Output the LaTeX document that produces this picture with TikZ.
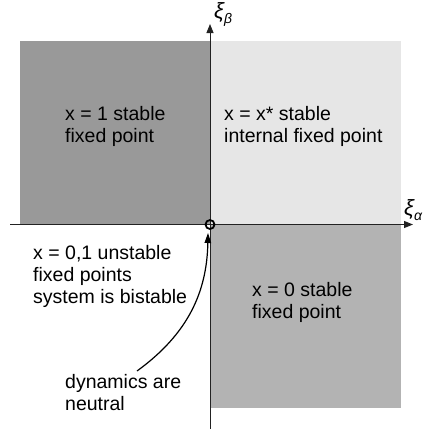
\documentclass[tikz,border=0pt]{standalone}
\usepackage{fontspec}
\setmainfont{Liberation Sans}
\usetikzlibrary{arrows.meta}

\definecolor{darkq}{HTML}{999999}
\definecolor{lightq}{HTML}{E6E6E6}
\definecolor{midq}{HTML}{B3B3B3}
\definecolor{axisc}{HTML}{222222}

% multi-line labels are anchored at the baseline of their last line
\tikzset{
  lbl/.style={anchor=base west, align=left, inner sep=0pt,
    font=\fontsize{19.5}{22}\selectfont},
  axislbl/.style={inner sep=0pt, font=\fontsize{22}{24}\selectfont\itshape},
  axisline/.style={draw=axisc, line width=0.9pt,
    -{Triangle[length=9pt,width=7pt]}},
  pointer/.style={draw=black, line width=1.2pt,
    -{Triangle[length=10pt,width=6.5pt]}},
}

\begin{document}
\begin{tikzpicture}[x=1pt, y=-1pt]
  \useasboundingbox (0,0) rectangle (428,429);

  % quadrant regions
  \fill[darkq]  (20,41)  rectangle (210,224.5);
  \fill[lightq] (210,41) rectangle (401,224.5);
  \fill[midq]   (210,224.5) rectangle (401,408);

  % axes
  \coordinate (xs) at (10,224.5);
  \coordinate (xe) at (413,224.5);
  \coordinate (ys) at (210,429);
  \coordinate (ye) at (210,24);
  \draw[axisline] (xs) -- (xe);
  \draw[axisline] (ys) -- (ye);

  \node[axislbl, anchor=south west] (xa) at (404,221) {ξ\raisebox{-5pt}{\fontsize{14}{14}\selectfont α}};
  \node[axislbl, anchor=south west] (xb) at (214,27) {ξ\raisebox{-5pt}{\fontsize{14}{14}\selectfont β}};

  % origin marker
  \node[circle, draw=black, line width=1.8pt, minimum size=9pt, inner sep=0pt] (origin) at (210,224.5) {};

  % region labels
  \node[lbl] (q1) at (65,142)  {x = 1 stable\\fixed point};
  \node[lbl] (q2) at (224,142) {x = x* stable\\internal fixed point};
  \node[lbl] (q3) at (33,303)  {x = 0,1 unstable\\fixed points\\system is bistable};
  \node[lbl] (q4) at (252,318) {x = 0 stable\\fixed point};
  \node[lbl] (q5) at (65,410)  {dynamics are\\neutral};

  % pointer to the origin
  \coordinate (tail) at (137,371);
  \coordinate (tip) at (208,233);
  \draw[pointer] (tail) .. controls (188,334) and (207,292) .. (tip);
\end{tikzpicture}
\end{document}
